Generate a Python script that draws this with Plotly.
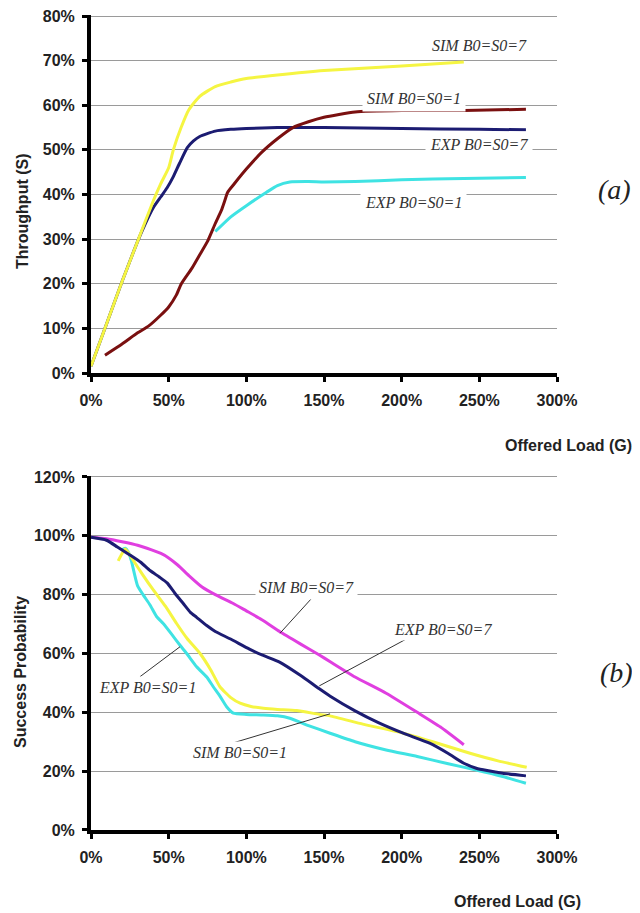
import plotly.graph_objects as go

# ---------- data: (a) throughput ----------
a_sim7_x = [0, 10, 20, 30, 40, 45, 50, 53, 58, 63, 70, 80, 90, 100, 120, 150, 200, 240]
a_sim7_y = [1.5, 11, 20.5, 29.5, 38.5, 42.5, 46, 50, 55, 59, 62, 64.2, 65.2, 66, 66.8, 67.8, 68.8, 69.7]

a_exp7_x = [0, 10, 20, 30, 35, 40, 45, 49, 53, 57, 62, 66, 70, 80, 90, 100, 120, 150, 200, 250, 280]
a_exp7_y = [1.5, 11, 20.5, 29.5, 33.5, 37, 39.5, 41.5, 44, 47, 50.5, 52, 53, 54.2, 54.6, 54.8, 55, 55, 54.8, 54.6, 54.5]

a_sim1_x = [9, 20, 30, 37, 45, 50, 55, 58, 65, 70, 75, 80, 84, 86, 88, 92, 100, 110, 120, 130, 140, 150, 170, 200, 240, 280]
a_sim1_y = [4, 6.5, 9, 10.5, 13, 14.8, 17.5, 19.9, 23.5, 26.5, 29.5, 33.5, 36.5, 38.5, 40.5, 42.3, 45.7, 49.5, 52.5, 55, 56.3, 57.3, 58.5, 58.8, 58.8, 59.1]

a_exp1_x = [80, 90, 100, 113, 120, 128, 140, 150, 170, 200, 240, 280]
a_exp1_y = [31.7, 35, 37.5, 40.5, 42, 42.8, 42.9, 42.8, 42.9, 43.3, 43.6, 43.8]

# ---------- data: (b) success probability ----------
b_sim7_x = [0, 10, 20, 30, 39, 45, 50, 56, 63, 71.5, 80, 91.6, 100, 110, 121.7, 135, 147, 154, 170, 190, 210, 225, 240]
b_sim7_y = [99.5, 99, 98, 96.8, 95.2, 94, 92.5, 90, 86.5, 82.6, 80, 77, 74.5, 71.5, 67.4, 63.2, 59.5, 57.2, 52, 46.5, 40, 35, 29]

b_exp7_x = [0, 10, 17, 25, 32, 38, 44, 49, 54, 59.4, 64, 68, 74.5, 80, 89.5, 102, 110, 121.7, 135, 147, 154, 170, 185, 201, 218, 230, 240, 248, 255, 265, 280]
b_exp7_y = [99.5, 98.5, 96.2, 93.5, 91, 88.2, 86, 84, 80.5, 77, 74, 72.3, 69.5, 67.5, 65, 61.5, 59.5, 57, 52.5, 48, 45.5, 40.5, 36.5, 32.9, 29.5, 26, 22.7, 21, 20.2, 19.3, 18.4]

b_exp1_x = [19.7, 22, 24, 26, 28, 30, 33.5, 38, 42.3, 46.5, 52, 57.3, 61.6, 68, 74.5, 78.7, 83, 87.3, 91.6, 100, 111, 120, 128, 140, 153.9, 170, 190, 210, 230, 248, 265, 280]
b_exp1_y = [95.2, 95.8, 94.5, 91.5, 87, 83, 80, 76.5, 72.5, 70.2, 66.5, 62.8, 60, 55.5, 52, 48.7, 45.5, 41.9, 39.7, 39.3, 39.1, 38.8, 38, 35.5, 32.9, 30, 27.2, 25, 22.5, 20.4, 18.2, 15.9]

b_sim1_x = [17.5, 20, 22, 25, 28, 33, 40.1, 48, 55.1, 62, 70.2, 77, 83, 90, 96, 103, 111, 120, 132.4, 147, 153.9, 175, 201, 220, 244, 262, 280.5]
b_sim1_y = [91.5, 94, 95.5, 93.5, 91, 87, 81.6, 76, 70.2, 65, 60, 54.5, 48.7, 45, 43.1, 42, 41.4, 41, 40.6, 39.3, 38.8, 36, 32.9, 30, 26.1, 23.5, 21.3]

x_ticks = [0, 50, 100, 150, 200, 250, 300]
x_tick_text = ["0%", "50%", "100%", "150%", "200%", "250%", "300%"]
a_y_ticks = [0, 10, 20, 30, 40, 50, 60, 70, 80]
a_y_tick_text = ["0%", "10%", "20%", "30%", "40%", "50%", "60%", "70%", "80%"]
b_y_ticks = [0, 20, 40, 60, 80, 100, 120]
b_y_tick_text = ["0%", "20%", "40%", "60%", "80%", "100%", "120%"]

YELLOW = "#F5F542"
NAVY = "#1C1C72"
DARKRED = "#7A1010"
CYAN = "#3FE3E3"
MAGENTA = "#E03FE0"

fig = go.Figure()
lw = 3

def add(x, y, color, xa, ya):
    fig.add_trace(go.Scatter(x=x, y=y, mode="lines", line=dict(color=color, width=lw, shape="spline", smoothing=0.5),
                             xaxis=xa, yaxis=ya, showlegend=False, hoverinfo="skip"))

add(a_exp7_x, a_exp7_y, NAVY, "x", "y")
add(a_sim7_x, a_sim7_y, YELLOW, "x", "y")
add(a_sim1_x, a_sim1_y, DARKRED, "x", "y")
add(a_exp1_x, a_exp1_y, CYAN, "x", "y")

add(b_sim7_x, b_sim7_y, MAGENTA, "x2", "y2")
add(b_exp1_x, b_exp1_y, CYAN, "x2", "y2")
add(b_sim1_x, b_sim1_y, YELLOW, "x2", "y2")
add(b_exp7_x, b_exp7_y, NAVY, "x2", "y2")

tickfont = dict(family="Liberation Sans, Arial", size=16, color="#222", weight="bold")

def xaxis(anchor):
    return dict(range=[0, 300], tickvals=x_ticks, ticktext=x_tick_text, showgrid=False, zeroline=False,
                showline=True, linecolor="black", linewidth=4, ticks="outside", ticklen=5, tickwidth=3,
                tickcolor="black", tickfont=tickfont, anchor=anchor, domain=[0, 1], automargin=False,
                ticklabelstandoff=5, ticklabeloverflow="allow")

def yaxis(anchor, rng, tv, tt, dom):
    return dict(range=rng, tickvals=tv, ticktext=tt, showgrid=True, gridcolor="#9a9a9a", gridwidth=1,
                zeroline=False, showline=True, linecolor="black", linewidth=4, ticks="outside", ticklen=5,
                tickwidth=3, tickcolor="black", tickfont=tickfont, anchor=anchor, domain=dom,
                ticklabelstandoff=4, automargin=False, ticklabeloverflow="allow")

# the page body adds an 8px margin; positions below are taken in the reference's pixel frame
OFF = 8
W, H = 640 - OFF, 913 - OFF
ML = 91 - OFF
MT = 4
MR = W - (557 - OFF)
MB = H - (830 - OFF)
PW, PH = W - ML - MR, H - MT - MB

def py(p):  # reference pixel y -> paper
    return (H - MB - (p - OFF)) / PH

def px(p):
    return (p - OFF - ML) / PW

# pixel frame of the two panels in the reference (0 line and top grid line)
A_Y0, A_Y80 = 373, 16
B_Y0, B_Y120 = 830, 477
A_TOP = 80.3    # slightly above the last grid line so it is drawn
B_TOP = 120.5
fig.update_layout(
    width=W, height=H, margin=dict(l=ML, r=MR, t=MT, b=MB, autoexpand=False),
    paper_bgcolor="white", plot_bgcolor="white", showlegend=False,
    xaxis=xaxis("y"),
    yaxis=yaxis("x", [0, A_TOP], a_y_ticks, a_y_tick_text,
                [py(A_Y0), py(A_Y0 - (A_Y0 - A_Y80) / 80 * A_TOP)]),
    xaxis2=xaxis("y2"),
    yaxis2=yaxis("x2", [0, B_TOP], b_y_ticks, b_y_tick_text,
                 [py(B_Y0), py(B_Y0 - (B_Y0 - B_Y120) / 120 * B_TOP)]),
)

lab_font = dict(family="Liberation Serif, Times New Roman", size=16, color="#333", style="italic")
annots = []
def lab(text, x, y, xr, yr, pad=2):
    annots.append(dict(text=text, x=x, y=y, xref=xr, yref=yr, showarrow=False, font=lab_font,
                       bgcolor="white", borderpad=pad, xanchor="center", yanchor="middle"))

lab("SIM B0=S0=7", 250, 73.4, "x", "y")
lab("SIM B0=S0=1", 208, 61.6, "x", "y", 4)
lab("EXP B0=S0=7", 249.8, 51.2, "x", "y", 4)
lab("EXP B0=S0=1", 207.3, 38.3, "x", "y", 4)

lab("SIM B0=S0=7", 138.7, 82.3, "x2", "y2", 3)
lab("EXP B0=S0=7", 226.6, 68, "x2", "y2")
lab("EXP B0=S0=1", 36.4, 48.3, "x2", "y2")
lab("SIM B0=S0=1", 95.6, 26.2, "x2", "y2")

title_font = dict(family="Liberation Sans, Arial", size=16, color="#222", weight="bold")
annots.append(dict(text="Throughput (S)", x=px(22), y=py(211), xref="paper", yref="paper", textangle=-90,
                   showarrow=False, font=title_font, xanchor="center", yanchor="middle"))
annots.append(dict(text="Success Probability", x=px(20), y=py(672), xref="paper", yref="paper", textangle=-90,
                   showarrow=False, font=title_font, xanchor="center", yanchor="middle"))
annots.append(dict(text="Offered Load (G)", x=px(634), y=py(445), xref="paper", yref="paper",
                   showarrow=False, font=title_font, xanchor="right", yanchor="middle"))
annots.append(dict(text="Offered Load (G)", x=px(583), y=py(901), xref="paper", yref="paper",
                   showarrow=False, font=title_font, xanchor="right", yanchor="middle"))
panel_font = dict(family="Liberation Serif, Times New Roman", size=28, color="#222", style="italic")
annots.append(dict(text="(a)", x=px(614), y=py(190), xref="paper", yref="paper", showarrow=False,
                   font=panel_font, xanchor="center", yanchor="middle"))
annots.append(dict(text="(b)", x=px(616), y=py(672), xref="paper", yref="paper", showarrow=False,
                   font=panel_font, xanchor="center", yanchor="middle"))
fig.update_layout(annotations=annots)

# leader lines for panel (b) labels
leaders = [
    ((143, 79.3), (121.7, 66.9)),
    ((205.4, 65.6), (147, 49)),
    ((31.5, 52.1), (57.3, 62.3)),
    ((91.4, 29.6), (153.9, 39.5)),
]
for (x0, y0), (x1, y1) in leaders:
    fig.add_shape(type="line", x0=x0, y0=y0, x1=x1, y1=y1, xref="x2", yref="y2",
                  line=dict(color="#333", width=1))

fig.write_html("out.html")
